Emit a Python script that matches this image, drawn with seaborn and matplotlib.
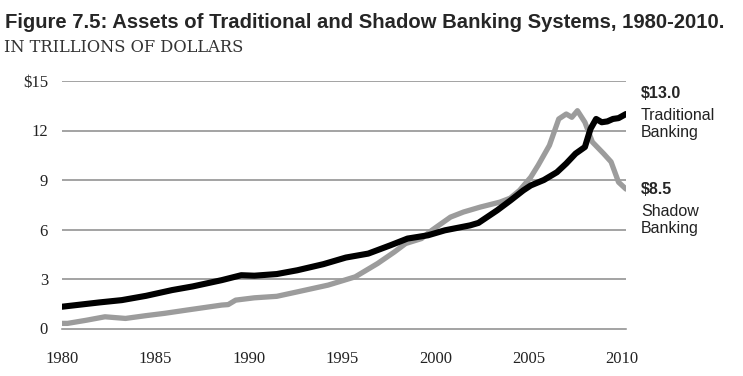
import matplotlib
matplotlib.use('Agg')
import matplotlib.pyplot as plt
import seaborn as sns
from matplotlib.ticker import MultipleLocator

# 데이터 (단위: 조 달러)
trad_years = [1980.0, 1981.0, 1982.0, 1983.2, 1984.5, 1985.9, 1987.0, 1988.55, 1989.6,
              1990.3, 1991.5, 1992.6, 1994.0, 1995.2, 1996.4, 1997.6, 1998.5, 1999.6,
              2000.5, 2001.85, 2002.3, 2003.3, 2004.0, 2004.7, 2005.1, 2005.8, 2006.5,
              2007.0, 2007.5, 2008.0, 2008.3, 2008.6, 2008.9, 2009.2, 2009.5, 2009.8, 2010.2]
trad_assets = [1.32, 1.45, 1.58, 1.72, 1.98, 2.33, 2.55, 2.93, 3.23,
               3.2, 3.3, 3.53, 3.9, 4.3, 4.54, 5.05, 5.45, 5.65,
               5.95, 6.25, 6.4, 7.16, 7.75, 8.37, 8.67, 9.0, 9.47,
               10.0, 10.6, 11.0, 12.1, 12.7, 12.5, 12.55, 12.7, 12.75, 13.0]

shadow_years = [1980.0, 1980.3, 1981.3, 1982.3, 1983.4, 1984.5, 1985.5, 1986.7, 1988.55,
                1988.9, 1989.3, 1990.3, 1991.5, 1992.6, 1994.25, 1995.7, 1996.9, 1997.8,
                1998.4, 1999.25, 1999.8, 2000.8, 2001.5, 2002.4, 2003.45, 2004.0, 2004.5,
                2005.1, 2005.5, 2006.1, 2006.6, 2007.0, 2007.3, 2007.6, 2008.0, 2008.4,
                2009.0, 2009.4, 2009.8, 2010.2]
shadow_assets = [0.31, 0.31, 0.5, 0.71, 0.61, 0.78, 0.92, 1.12, 1.42,
                 1.45, 1.72, 1.86, 1.95, 2.22, 2.63, 3.13, 3.94, 4.64,
                 5.15, 5.45, 5.95, 6.75, 7.06, 7.36, 7.66, 7.9, 8.37,
                 9.17, 9.9, 11.1, 12.7, 13.0, 12.8, 13.2, 12.5, 11.3,
                 10.6, 10.1, 8.87, 8.45]

y_ticks = [0, 3, 6, 9, 12, 15]
y_labels = ['0', '3', '6', '9', '12', '$15']
x_ticks = [1980, 1985, 1990, 1995, 2000, 2005, 2010]

sns.set_style('white')
plt.rcParams['font.family'] = ['Liberation Serif', 'DejaVu Serif']

fig = plt.figure(figsize=(7.43, 3.76), dpi=100)
ax = fig.add_axes([62 / 743, 47.5 / 376, (626 - 62) / 743, (328.5 - 81) / 376])

grid_col = '#8a8a8a'
for v in y_ticks[1:]:
    ax.axhline(v, color=grid_col, lw=1.1, zorder=1)

sns.lineplot(x=shadow_years, y=shadow_assets, ax=ax, color='#9c9c9c', lw=3.8,
             sort=False, zorder=3)
sns.lineplot(x=trad_years, y=trad_assets, ax=ax, color='black', lw=4.4,
             sort=False, zorder=4)

ax.set_xlim(1980, 2010.2)
ax.set_ylim(0, 15)
ax.set_xticks(x_ticks)
ax.set_xticklabels([str(t) for t in x_ticks], fontsize=12, color='#222222')
ax.xaxis.set_minor_locator(MultipleLocator(1))
ax.set_yticks(y_ticks)
ax.set_yticklabels(y_labels, fontsize=12, color='#222222')
ax.tick_params(axis='x', which='major', direction='out', length=11, width=1,
               color=grid_col, pad=5)
ax.tick_params(axis='x', which='minor', direction='out', length=6, width=1,
               color=grid_col)
ax.tick_params(axis='y', length=0, pad=10)
ax.set_xlabel('')
ax.set_ylabel('')

for side in ['top', 'right', 'left']:
    ax.spines[side].set_visible(False)
ax.spines['bottom'].set_color(grid_col)
ax.spines['bottom'].set_linewidth(1.1)

# 제목
fig.text(0.007, 0.941, 'Figure 7.5: Assets of Traditional and Shadow Banking Systems, 1980-2010.',
         fontsize=14.6, fontweight='bold', family='Liberation Sans', va='center', ha='left')
fig.text(0.006, 0.875, 'IN TRILLIONS OF DOLLARS', fontsize=11.7, color='#333333',
         family='DejaVu Serif', va='center', ha='left')

# 오른쪽 라벨
lx = 641 / 743
sans = 'Liberation Sans'
fig.text(lx, 1 - 94 / 376, '$13.0', fontsize=11.5, fontweight='bold', family=sans, va='center')
fig.text(lx, 1 - 115 / 376, 'Traditional', fontsize=11.5, family=sans, color='#222222', va='center')
fig.text(lx, 1 - 132 / 376, 'Banking', fontsize=11.5, family=sans, color='#222222', va='center')
fig.text(lx, 1 - 190 / 376, '$8.5', fontsize=11.5, fontweight='bold', family=sans, va='center')
fig.text(lx, 1 - 211 / 376, 'Shadow', fontsize=11.5, family=sans, color='#222222', va='center')
fig.text(lx, 1 - 228 / 376, 'Banking', fontsize=11.5, family=sans, color='#222222', va='center')

fig.savefig('out.png', dpi=100)
